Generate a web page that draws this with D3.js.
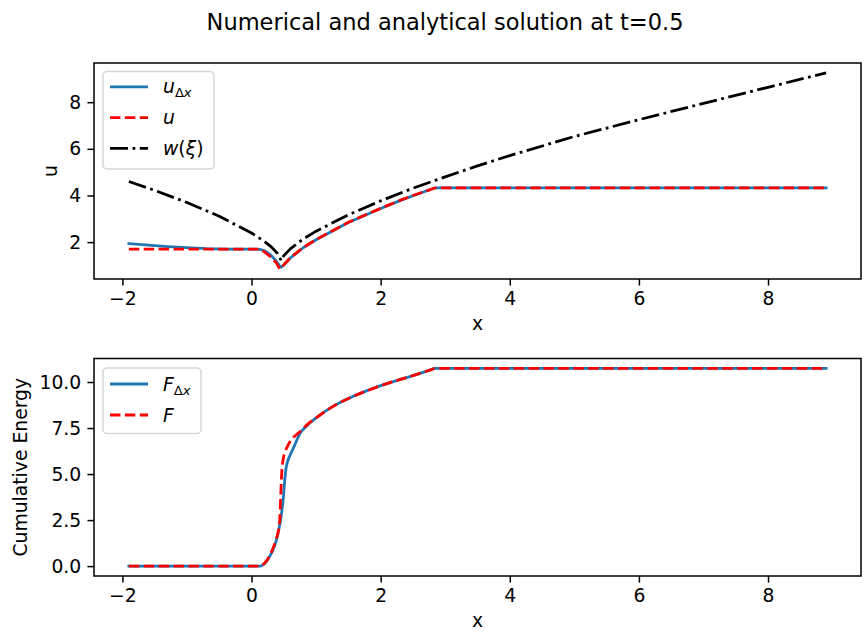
<!DOCTYPE html>
<html>
<head>
<meta charset="utf-8">
<script src="https://cdn.jsdelivr.net/npm/d3@7"></script>
<style>
  html, body { margin: 0; padding: 0; background: #fff; }
  svg { display: block; font-family: "DejaVu Sans", sans-serif; }
</style>
</head>
<body>
<svg id="fig" width="868" height="637"></svg>
<script>
// ---- data: upper panel (u at t = 0.5) ----
const xUNum   = [-1.9, -1.6, -1.3, -1.0, -0.7, -0.4, 0.0, 0.13, 0.2, 0.3, 0.38, 0.43, 0.46, 0.5, 0.6, 0.8, 1.0, 1.5, 2.0, 2.3, 2.5, 2.85, 8.9];
const uNum    = [1.94, 1.87, 1.81, 1.76, 1.72, 1.70, 1.70, 1.69, 1.63, 1.44, 1.20, 1.00, 0.92, 1.02, 1.32, 1.76, 2.10, 2.84, 3.44, 3.78, 3.99, 4.33, 4.33];
const xUExact = [-1.9, 0.13, 0.2, 0.3, 0.38, 0.44, 0.5, 0.6, 0.8, 1.0, 1.5, 2.0, 2.3, 2.5, 2.85, 8.9];
const uExact  = [1.70, 1.70, 1.58, 1.36, 1.12, 0.84, 1.03, 1.33, 1.77, 2.11, 2.85, 3.45, 3.79, 4.00, 4.33, 4.33];
const xW      = [-1.9, -1.5, -1.0, -0.5, 0.0, 0.2, 0.3, 0.4, 0.46, 0.5, 0.6, 0.8, 1.0, 1.5, 2.0, 2.5, 3.0, 3.5, 4.0, 5.0, 6.0, 7.0, 8.0, 8.9];
const wXi     = [4.60, 4.22, 3.70, 3.11, 2.39, 2.03, 1.81, 1.52, 1.20, 1.42, 1.71, 2.13, 2.47, 3.17, 3.77, 4.31, 4.80, 5.27, 5.71, 6.53, 7.25, 7.95, 8.64, 9.26];

// ---- data: lower panel (cumulative energy) ----
const xFNum   = [-1.9, 0.13, 0.2, 0.3, 0.38, 0.42, 0.45, 0.47, 0.49, 0.51, 0.53, 0.56, 0.6, 0.66, 0.75, 0.85, 1.0, 1.25, 1.5, 2.0, 2.5, 2.75, 2.85, 8.9];
const fNum    = [0, 0, 0.13, 0.65, 1.35, 1.95, 2.5, 3.0, 3.6, 4.5, 5.2, 5.7, 6.05, 6.5, 7.2, 7.6, 8.05, 8.65, 9.1, 9.8, 10.35, 10.63, 10.74, 10.74];
const xFExact = [-1.9, 0.13, 0.2, 0.3, 0.38, 0.42, 0.44, 0.45, 0.46, 0.47, 0.49, 0.52, 0.57, 0.65, 0.75, 0.85, 1.0, 1.25, 1.5, 2.0, 2.5, 2.75, 2.85, 8.9];
const fExact  = [0, 0, 0.15, 0.7, 1.45, 2.0, 2.7, 3.6, 4.5, 5.2, 5.8, 6.2, 6.6, 7.0, 7.3, 7.65, 8.05, 8.65, 9.1, 9.8, 10.35, 10.63, 10.74, 10.74];

// ---- ticks ----
const xTicks   = [-2, 0, 2, 4, 6, 8];
const uTicks   = [2, 4, 6, 8];
const fTicks   = [0, 2.5, 5, 7.5, 10];

const title = "Numerical and analytical solution at t=0.5";

const BLUE = "#1f77b4", RED = "#ff0000", BLACK = "#000000";
const LW = 2.8;
const FS = 18.75;

const svg = d3.select("#fig");
const zip = (xs, ys) => xs.map((x, i) => [x, ys[i]]);

// padded extent, 5% each side
function padded(arrs) {
  const lo = d3.min(arrs, a => d3.min(a)), hi = d3.max(arrs, a => d3.max(a));
  const p = (hi - lo) * 0.05;
  return [lo - p, hi + p];
}

const L = 94, R = 861;
const x = d3.scaleLinear().domain(padded([xUNum, xUExact, xW, xFNum, xFExact])).range([L, R]);

svg.append("text")
  .attr("x", 445).attr("y", 30)
  .attr("text-anchor", "middle")
  .attr("font-size", 22.5)
  .text(title);

function panel(top, bottom, series, curve, yTicks, yFmt, yLabel, yLabelX, legend) {
  const y = d3.scaleLinear().domain(padded(series.map(s => s.ys))).range([bottom, top]);
  const g = svg.append("g");

  const line = d3.line().curve(curve).x(d => x(d[0])).y(d => y(d[1]));
  series.forEach(s => {
    g.append("path")
      .attr("d", line(zip(s.xs, s.ys)))
      .attr("fill", "none")
      .attr("stroke", s.color)
      .attr("stroke-width", LW)
      .attr("stroke-dasharray", s.dash || null)
      .attr("stroke-linejoin", "round")
      .attr("stroke-linecap", s.dash ? "butt" : "square");
  });

  // axes
  const xa = g.append("g").attr("transform", `translate(0,${bottom})`)
    .call(d3.axisBottom(x).tickValues(xTicks).tickSize(6.6).tickPadding(6.2)
      .tickFormat(d => d < 0 ? "\u2212" + Math.abs(d) : String(d)));
  const ya = g.append("g").attr("transform", `translate(${L},0)`)
    .call(d3.axisLeft(y).tickValues(yTicks).tickSize(6.6).tickPadding(6.2).tickFormat(yFmt));
  [xa, ya].forEach(a => {
    a.select(".domain").remove();
    a.selectAll("line").attr("stroke", "#000").attr("stroke-width", 1.5);
    a.selectAll("text").attr("font-size", FS).attr("fill", "#000")
      .attr("font-family", "DejaVu Sans, sans-serif");
  });

  g.append("rect").attr("x", L).attr("y", top).attr("width", R - L).attr("height", bottom - top)
    .attr("fill", "none").attr("stroke", "#000").attr("stroke-width", 1.5);

  g.append("text").attr("x", (L + R) / 2).attr("y", bottom + 51)
    .attr("text-anchor", "middle").attr("font-size", FS).text("x");
  g.append("text")
    .attr("transform", `translate(${yLabelX},${(top + bottom) / 2}) rotate(-90)`)
    .attr("text-anchor", "middle").attr("font-size", FS).text(yLabel);

  // legend
  const lg = g.append("g");
  lg.append("rect")
    .attr("x", legend.x).attr("y", legend.y).attr("width", legend.w).attr("height", legend.h)
    .attr("rx", 4).attr("fill", "#fff").attr("fill-opacity", 0.8)
    .attr("stroke", "#d6d6d6").attr("stroke-width", 1.5);
  legend.items.forEach((it, i) => {
    const cy = legend.y + legend.first + i * legend.step;
    lg.append("line").attr("x1", legend.x + 7).attr("x2", legend.x + 45)
      .attr("y1", cy).attr("y2", cy)
      .attr("stroke", it.color).attr("stroke-width", LW)
      .attr("stroke-dasharray", it.dash || null);
    const t = lg.append("text").attr("x", legend.x + 60).attr("y", cy + 6.5)
      .attr("font-size", FS);
    it.parts.forEach(p => {
      const ts = t.append("tspan").text(p.t);
      if (p.i) ts.attr("font-style", "italic");
      if (p.sub) ts.attr("font-size", FS * 0.7).attr("dy", p.dy);
      if (p.dy && !p.sub) ts.attr("dy", p.dy);
    });
  });
}

panel(63, 279, [
  { xs: xUNum, ys: uNum, color: BLUE },
  { xs: xUExact, ys: uExact, color: RED, dash: "10.4,4.5" },
  { xs: xW, ys: wXi, color: BLACK, dash: "18,4.5,2.8,4.5" }
], d3.curveLinear, uTicks, d3.format("d"), "u", 57, {
  x: 103, y: 71.5, w: 111, h: 97.5, first: 15.3, step: 30.8,
  items: [
    { color: BLUE, parts: [{ t: "u", i: true }, { t: "\u0394", sub: true, dy: 4 }, { t: "x", i: true, sub: true }] },
    { color: RED, dash: "10.4,4.5", parts: [{ t: "u", i: true }] },
    { color: BLACK, dash: "18,4.5,2.8,4.5", parts: [{ t: "w", i: true }, { t: "(" }, { t: "\u03be", i: true }, { t: ")" }] }
  ]
});

panel(358.5, 576, [
  { xs: xFNum, ys: fNum, color: BLUE },
  { xs: xFExact, ys: fExact, color: RED, dash: "10.4,4.5" }
], d3.curveMonotoneX, fTicks, d3.format(".1f"), "Cumulative Energy", 27, {
  x: 103, y: 368, w: 98, h: 65.5, first: 16, step: 31,
  items: [
    { color: BLUE, parts: [{ t: "F", i: true }, { t: "\u0394", sub: true, dy: 4 }, { t: "x", i: true, sub: true }] },
    { color: RED, dash: "10.4,4.5", parts: [{ t: "F", i: true }] }
  ]
});
</script>
</body>
</html>
